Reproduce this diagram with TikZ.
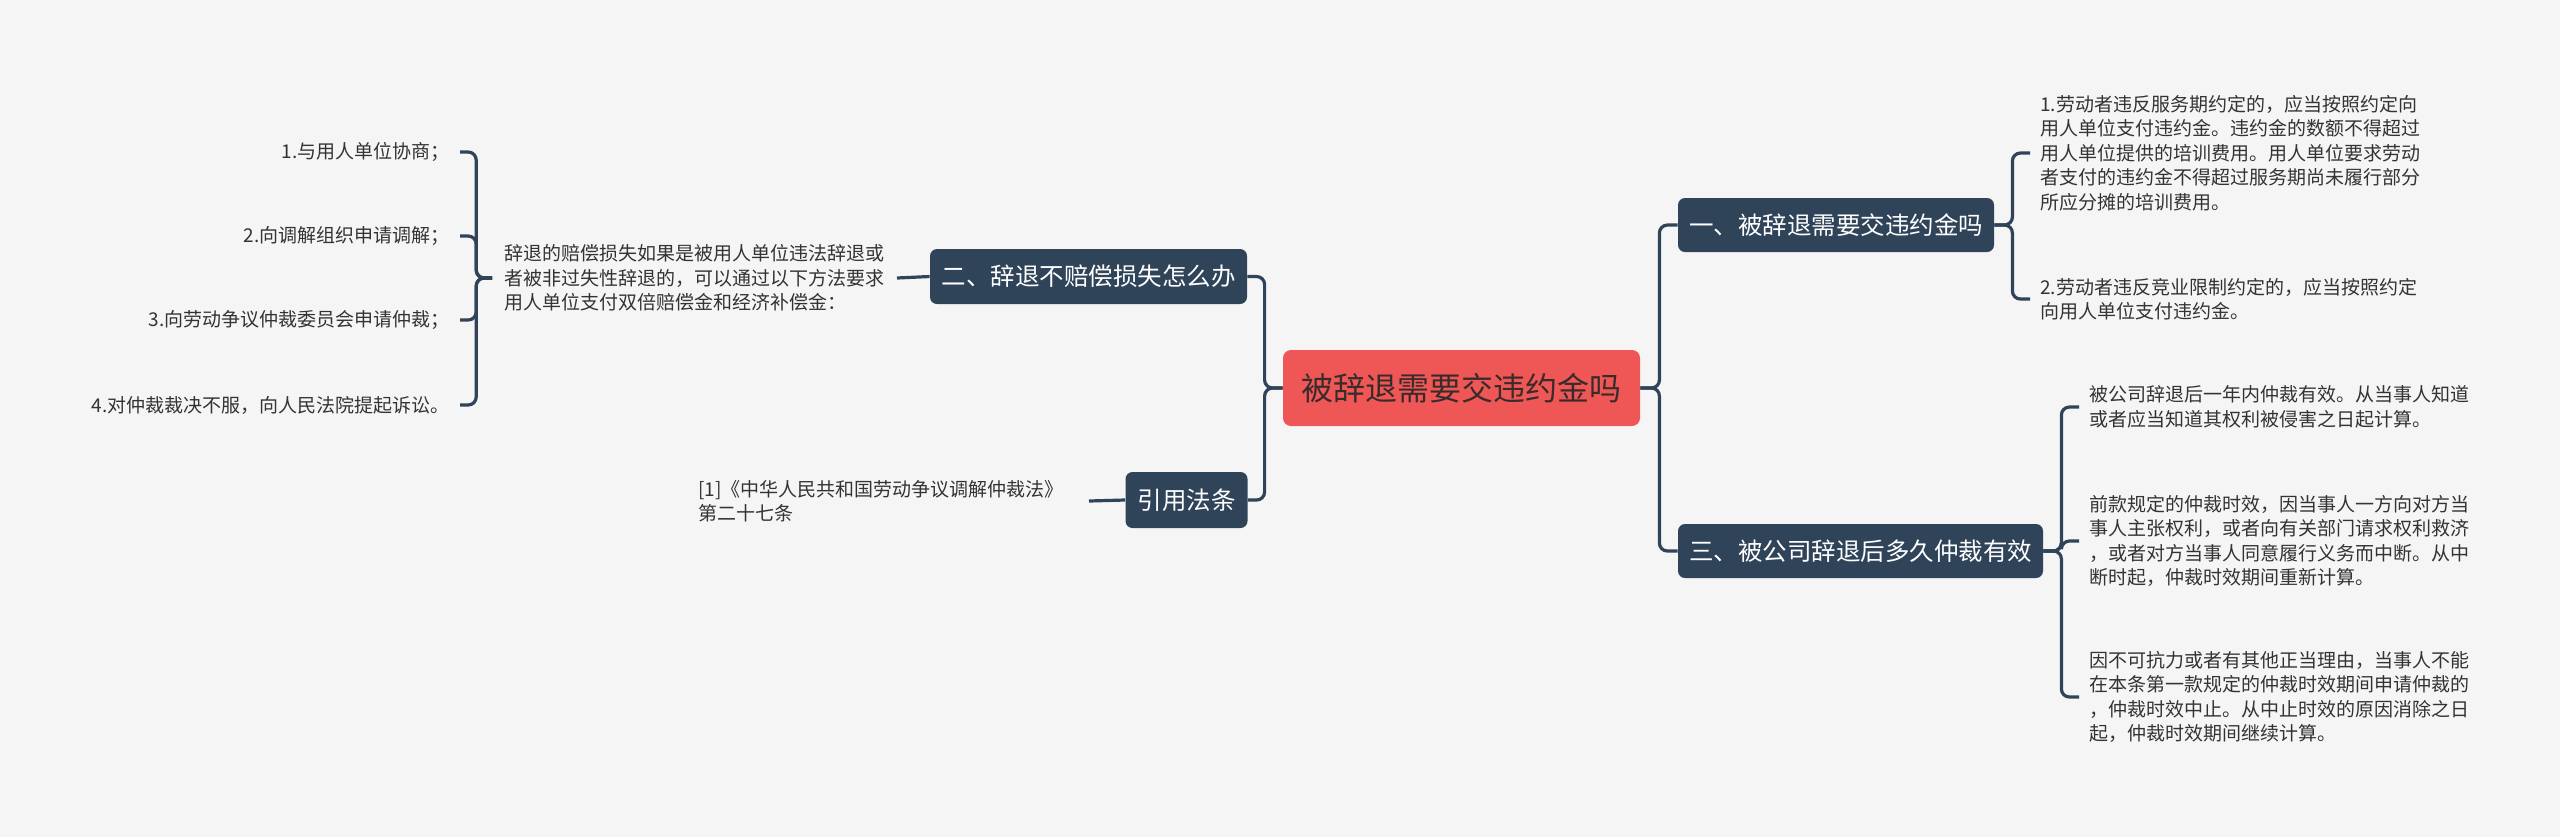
\documentclass[tikz,border=0pt]{standalone}
\usepackage{fontspec}
\setmainfont{Noto Sans CJK SC}
\definecolor{bg}{HTML}{F5F5F5}
\definecolor{navy}{HTML}{2F4359}
\definecolor{rootred}{HTML}{EF5757}
\definecolor{roottxt}{HTML}{3A2B2B}
\definecolor{leaftxt}{HTML}{333333}
\begin{document}
\begin{tikzpicture}[x=0.5pt,y=-0.5pt,
  conn/.style={draw=navy,line width=1.6pt,rounded corners=4pt},
  rootbox/.style={fill=rootred,text=roottxt,rounded corners=4pt,inner sep=0pt,
    minimum width=178.5pt,minimum height=38pt,font=\fontsize{16pt}{19pt}\selectfont},
  topic/.style={fill=navy,text=white,rounded corners=3.5pt,inner sep=0pt,
    font=\fontsize{12.25pt}{14pt}\selectfont},
  leaf/.style={text=leaftxt,align=left,inner xsep=5pt,inner ysep=0pt,
    font=\fontsize{9.5pt}{12.25pt}\selectfont},
]
\fill[bg] (0,0) rectangle (2560,837);
\useasboundingbox (0,0) rectangle (2560,837);

% main nodes
\node[rootbox] (c) at (1461.5,388) {被辞退需要交违约金吗};
\node[topic,minimum width=158pt,minimum height=27pt] (n1) at (1836,225) {一、被辞退需要交违约金吗};
\node[topic,minimum width=182.5pt,minimum height=27pt] (n3) at (1860.5,551) {三、被公司辞退后多久仲裁有效};
\node[topic,minimum width=158.5pt,minimum height=27.5pt] (n2) at (1088.5,276.5) {二、辞退不赔偿损失怎么办};
\node[topic,minimum width=61pt,minimum height=28pt] (n4) at (1186.5,500) {引用法条};

% right leaves of n1
\node[leaf,anchor=west] (r1) at (2030,153) {1.劳动者违反服务期约定的，应当按照约定向\\用人单位支付违约金。违约金的数额不得超过\\用人单位提供的培训费用。用人单位要求劳动\\者支付的违约金不得超过服务期尚未履行部分\\所应分摊的培训费用。};
\node[leaf,anchor=west] (r2) at (2030,299) {2.劳动者违反竞业限制约定的，应当按照约定\\向用人单位支付违约金。};

% right leaves of n3
\node[leaf,anchor=west] (s1) at (2079,407) {被公司辞退后一年内仲裁有效。从当事人知道\\或者应当知道其权利被侵害之日起计算。};
\node[leaf,anchor=west] (s2) at (2079,541) {前款规定的仲裁时效，因当事人一方向对方当\\事人主张权利，或者向有关部门请求权利救济\\，或者对方当事人同意履行义务而中断。从中\\断时起，仲裁时效期间重新计算。};
\node[leaf,anchor=west] (s3) at (2079,697) {因不可抗力或者有其他正当理由，当事人不能\\在本条第一款规定的仲裁时效期间申请仲裁的\\，仲裁时效中止。从中止时效的原因消除之日\\起，仲裁时效期间继续计算。};

% left leaves of n2
\node[leaf,anchor=east,inner xsep=6pt] (l0) at (897,278) {辞退的赔偿损失如果是被用人单位违法辞退或\\者被非过失性辞退的，可以通过以下方法要求\\用人单位支付双倍赔偿金和经济补偿金：};
\node[leaf,anchor=east,align=right] (l1) at (460,152) {1.与用人单位协商；};
\node[leaf,anchor=east,align=right] (l2) at (460,236) {2.向调解组织申请调解；};
\node[leaf,anchor=east,align=right] (l3) at (460,320) {3.向劳动争议仲裁委员会申请仲裁；};
\node[leaf,anchor=east,align=right] (l4) at (460,405) {4.对仲裁裁决不服，向人民法院提起诉讼。};

% reference leaf
\node[leaf,anchor=east,inner xsep=12.5pt] (q0) at (1089,501) {[1]《中华人民共和国劳动争议调解仲裁法》\\第二十七条};

% connectors
\draw[conn] (c.east) -- ++(19,0) |- (n1.west);
\draw[conn] (c.east) -- ++(19,0) |- (n3.west);
\draw[conn] (c.west) -- ++(-18,0) |- (n2.east);
\draw[conn] (c.west) -- ++(-18,0) |- (n4.east);

\draw[conn] (n1.east) -- ++(18,0) |- (r1.west);
\draw[conn] (n1.east) -- ++(18,0) |- (r2.west);

\draw[conn] (n3.east) -- ++(18,0) |- (s1.west);
\draw[conn] (n3.east) -- ++(18,0) |- (s2.west);
\draw[conn] (n3.east) -- ++(18,0) |- (s3.west);

\draw[conn] (n2.west) -- (l0.east);
\draw[conn] (l0.west) -- ++(-16,0) |- (l1.east);
\draw[conn] (l0.west) -- ++(-16,0) |- (l2.east);
\draw[conn] (l0.west) -- ++(-16,0) |- (l3.east);
\draw[conn] (l0.west) -- ++(-16,0) |- (l4.east);

\draw[conn] (n4.west) -- (q0.east);
\end{tikzpicture}
\end{document}
